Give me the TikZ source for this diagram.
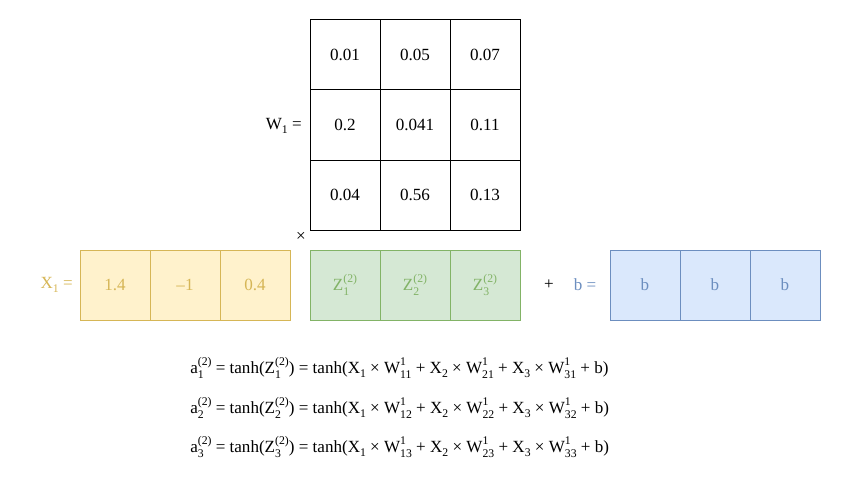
\documentclass[tikz,border=0pt]{standalone}
\usepackage{fontspec}
\setmainfont{Liberation Serif}
\definecolor{yfill}{HTML}{FFF2CC}\definecolor{ydraw}{HTML}{D6B656}
\definecolor{gfill}{HTML}{D5E8D4}\definecolor{gdraw}{HTML}{82B366}
\definecolor{bfill}{HTML}{DAE8FC}\definecolor{bdraw}{HTML}{6C8EBF}
\newlength\ssw
\newcommand\smallsz{\fontsize{8.8}{9}\selectfont}
\newcommand\SB[2]{\settowidth\ssw{\smallsz#1}\setbox0\hbox{\smallsz#2}\ifdim\wd0>\ssw\ssw=\wd0\fi\makebox[\ssw][l]{\rlap{\raisebox{1.0ex}{\smallsz#1}}\raisebox{-0.65ex}{\smallsz#2}}}
\newcommand\SBb[1]{\raisebox{-0.55ex}{\smallsz#1}}
\begin{document}
\begin{tikzpicture}[x=0.75pt,y=-0.75pt,
  every node/.style={font=\fontsize{12.8}{15}\selectfont},
  cell/.style={draw,minimum width=52.5pt,minimum height=52.5pt,inner sep=0pt,line width=0.75pt},
  wcell/.style={cell,draw=black,fill=white},
  xcell/.style={cell,draw=ydraw,fill=yfill,text=ydraw},
  zcell/.style={cell,draw=gdraw,fill=gfill,text=gdraw},
  bcell/.style={cell,draw=bdraw,fill=bfill,text=bdraw},
  lbl/.style={inner sep=0pt}]
\useasboundingbox (0,0) rectangle (861,492);
% W matrix
\node[wcell] (w11) at (345,55) {0.01};
\node[wcell] (w12) at (415,55) {0.05};
\node[wcell] (w13) at (485,55) {0.07};
\node[wcell] (w21) at (345,125) {0.2};
\node[wcell] (w22) at (415,125) {0.041};
\node[wcell] (w23) at (485,125) {0.11};
\node[wcell] (w31) at (345,195) {0.04};
\node[wcell] (w32) at (415,195) {0.56};
\node[wcell] (w33) at (485,195) {0.13};
\node[lbl,anchor=east] (wl) at (302,126) {W\SBb{1} =};
\node[lbl] (times) at (301,237) {×};
% X
\node[lbl,anchor=east,text=ydraw] (xl) at (73,285) {X\SBb{1} =};
\node[xcell] (x1) at (115,285) {1.4};
\node[xcell] (x2) at (185,285) {–1};
\node[xcell] (x3) at (255,285) {0.4};
% Z
\node[zcell] (z1) at (345,285) {Z\SB{(2)}{1}};
\node[zcell] (z2) at (415,285) {Z\SB{(2)}{2}};
\node[zcell] (z3) at (485,285) {Z\SB{(2)}{3}};
% plus, b
\node[lbl] (plus) at (549,285) {+};
\node[lbl,text=bdraw] (bl) at (585,285) {b =};
\node[bcell] (b1) at (645,285) {b};
\node[bcell] (b2) at (715,285) {b};
\node[bcell] (b3) at (785,285) {b};
% equations
\node[lbl,anchor=west] (e1) at (190,368) {a\SB{(2)}{1} = tanh(Z\SB{(2)}{1}) = tanh(X\SBb{1} × W\SB{1}{11} + X\SBb{2} × W\SB{1}{21} + X\SBb{3} × W\SB{1}{31} + b)};
\node[lbl,anchor=west] (e2) at (190,408) {a\SB{(2)}{2} = tanh(Z\SB{(2)}{2}) = tanh(X\SBb{1} × W\SB{1}{12} + X\SBb{2} × W\SB{1}{22} + X\SBb{3} × W\SB{1}{32} + b)};
\node[lbl,anchor=west] (e3) at (190,447) {a\SB{(2)}{3} = tanh(Z\SB{(2)}{3}) = tanh(X\SBb{1} × W\SB{1}{13} + X\SBb{2} × W\SB{1}{23} + X\SBb{3} × W\SB{1}{33} + b)};
\end{tikzpicture}
\end{document}
